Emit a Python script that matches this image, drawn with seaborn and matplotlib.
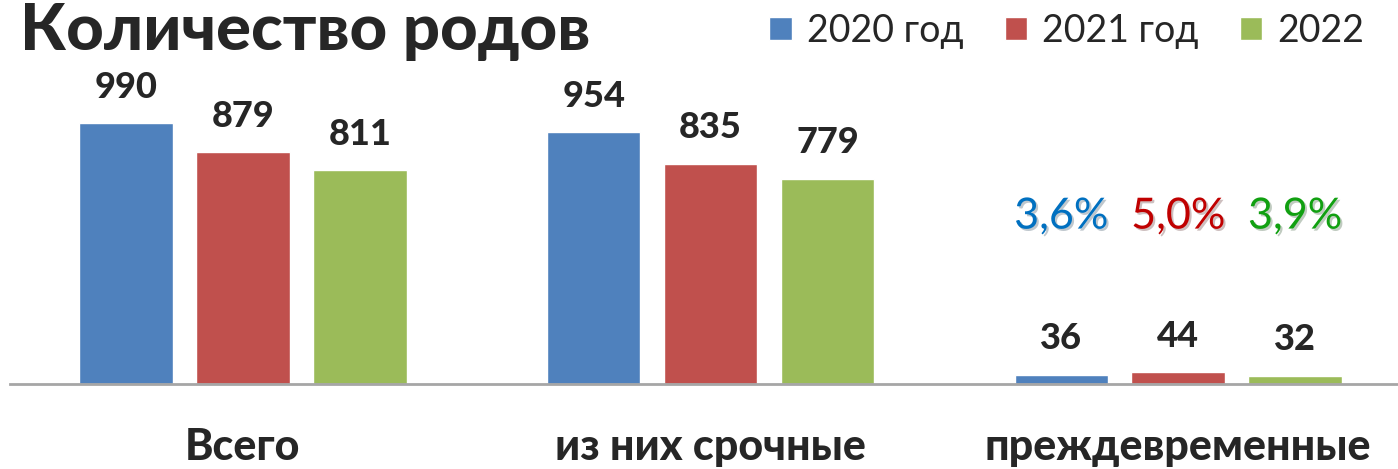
import numpy as np
import pandas as pd
import seaborn as sns
import matplotlib.pyplot as plt
import matplotlib.patheffects as pe

categories = ['Всего', 'из них срочные', 'преждевременные']
years = ['2020 год', '2021 год', '2022']
values_2020 = [990, 954, 36]
values_2021 = [879, 835, 44]
values_2022 = [811, 779, 32]
share_labels = ['3,6%', '5,0%', '3,9%']

bar_colors = ['#4F81BD', '#C0504D', '#9BBB59']
share_colors = ['#0070C0', '#C00000', '#11A011']

sns.set_theme(style='white')
plt.rcParams['font.family'] = ['Lato', 'DejaVu Sans']

df = pd.DataFrame({
    'cat': categories * 3,
    'year': [years[0]] * 3 + [years[1]] * 3 + [years[2]] * 3,
    'val': values_2020 + values_2021 + values_2022,
})

fig = plt.figure(figsize=(13.98, 4.69), dpi=100)
ax = fig.add_axes([10 / 1398, 85 / 469, 1388 / 1398, 316.4 / 469])

sns.barplot(data=df, x='cat', y='val', hue='year', palette=bar_colors,
            width=0.75, gap=0.2, saturation=1, ax=ax, legend=True)

ax.set_xlim(-0.498, 2.47)
ax.set_ylim(0, 1200)
ax.set_xlabel('')
ax.set_ylabel('')
ax.set_yticks([])
for s in ['top', 'left', 'right']:
    ax.spines[s].set_visible(False)
ax.spines['bottom'].set_color('#A6A6A6')
ax.spines['bottom'].set_linewidth(2)
ax.tick_params(axis='x', length=0, pad=31)
for lbl in ax.get_xticklabels():
    lbl.set_fontsize(31)
    lbl.set_fontweight('black')

for cont in ax.containers:
    ax.bar_label(cont, fmt='%d', padding=14, fontsize=26, fontweight='black')

# percentages over the third group
for i, cont in enumerate(ax.containers):
    bar = cont.patches[2]
    xc = bar.get_x() + bar.get_width() / 2
    ax.text(xc, 635, share_labels[i], ha='center', va='center', fontsize=31,
            color=share_colors[i],
            path_effects=[pe.SimplePatchShadow(offset=(1.5, -1.5), alpha=0.25), pe.Normal()])

handles, labels = ax.get_legend_handles_labels()
ax.get_legend().remove()
fig.legend(handles, labels, loc='upper right', bbox_to_anchor=(1.0, 1.045), ncol=3,
           frameon=False, fontsize=27, handlelength=0.6, handleheight=0.6,
           handletextpad=0.4, columnspacing=1.1)

fig.text(0.014, 0.995, 'Количество родов', ha='left', va='top', fontsize=47, fontweight='black')

fig.savefig('out.png', dpi=100)
